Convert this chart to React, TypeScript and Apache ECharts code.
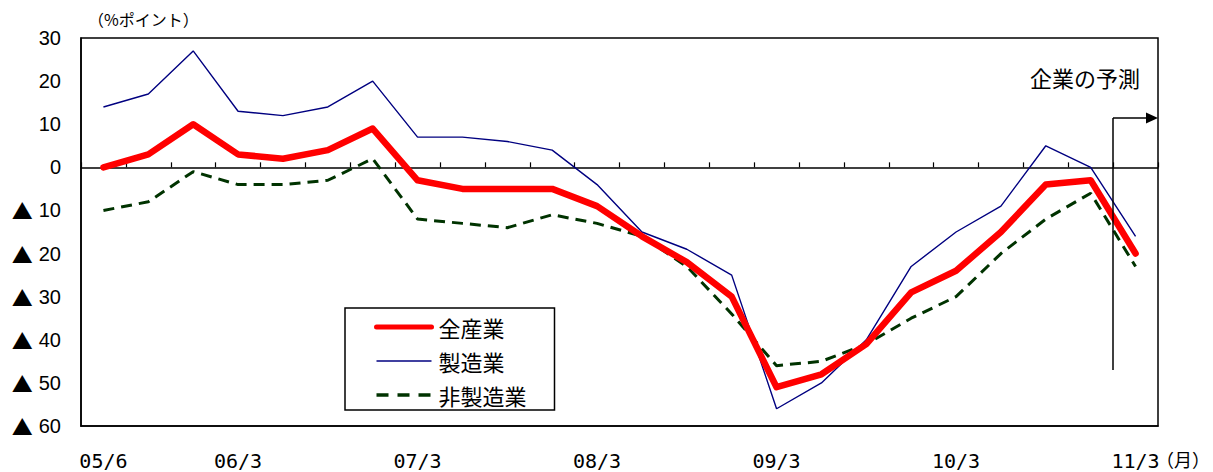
import React, { useEffect, useRef } from "react";
import * as echarts from "echarts";

const categories = [
  "05/6", "05/9", "05/12", "06/3", "06/6", "06/9", "06/12", "07/3",
  "07/6", "07/9", "07/12", "08/3", "08/6", "08/9", "08/12", "09/3",
  "09/6", "09/9", "09/12", "10/3", "10/6", "10/9", "10/12", "11/3",
];

const allIndustries = [0, 3, 10, 3, 2, 4, 9, -3, -5, -5, -5, -9, -16, -22, -30, -51, -48, -41, -29, -24, -15, -4, -3, -20];
const manufacturing = [14, 17, 27, 13, 12, 14, 20, 7, 7, 6, 4, -4, -15, -19, -25, -56, -50, -40, -23, -15, -9, 5, 0, -16];
const nonManufacturing = [-10, -8, -1, -4, -4, -3, 2, -12, -13, -14, -11, -13, -16, -23, -34, -46, -45, -41, -35, -30, -20, -12, -6, -23];

const seriesNames = ["全産業", "製造業", "非製造業"];
const yMin = -60;
const yMax = 30;
const yStep = 10;

const CJK = '"Noto Sans CJK JP", "Noto Sans", sans-serif';
const LAT = '"Liberation Sans", Arial, sans-serif';
const MONO = '"DejaVu Sans Mono", "Liberation Mono", monospace';

const RED = "#ff0000";
const BLUE = "#000080";
const GREEN = "#003300";

export default function App() {
  const ref = useRef<HTMLDivElement>(null);

  useEffect(() => {
    document.body.style.margin = "0";
    if (!ref.current) return;
    const chart = echarts.init(ref.current, undefined, { renderer: "svg" });
    chart.setOption({
      animation: false,
      backgroundColor: "#ffffff",
      grid: {
        left: 81,
        top: 38,
        right: 55,
        bottom: 46,
        show: true,
        borderColor: "#000",
        borderWidth: 1.5,
      },
      legend: {
        orient: "vertical",
        left: 345,
        top: 308,
        data: [
          { name: seriesNames[0], lineStyle: { color: RED, width: 5, cap: "round" } },
          { name: seriesNames[1], lineStyle: { color: BLUE, width: 1.4 } },
          { name: seriesNames[2], lineStyle: { color: GREEN, width: 3.5, type: [12, 9] } },
        ],
        itemWidth: 55,
        itemHeight: 14,
        itemGap: 12,
        padding: [8, 28, 4, 29],
        borderColor: "#000",
        borderWidth: 1.5,
        backgroundColor: "#fff",
        itemStyle: { opacity: 0 },
        textStyle: { fontFamily: CJK, fontSize: 22, color: "#000", padding: [0, 0, 0, 2] },
      },
      xAxis: [
        {
          type: "category",
          data: categories,
          boundaryGap: true,
          position: "bottom",
          axisLine: { show: true, onZero: false, lineStyle: { color: "#000", width: 1.5 } },
          axisTick: { show: false },
          axisLabel: {
            interval: (idx: number, name: string) => idx === 0 || name.endsWith("/3"),
            margin: 25,
            fontFamily: MONO,
            fontSize: 20,
            color: "#000",
          },
          splitLine: { show: false },
        },
        {
          type: "category",
          data: categories,
          boundaryGap: true,
          position: "bottom",
          axisLine: { show: true, onZero: true, lineStyle: { color: "#000", width: 1.5 } },
          axisTick: { show: true, inside: true, length: 5, interval: 0, lineStyle: { color: "#000", width: 1.2 } },
          axisLabel: { show: false },
          splitLine: { show: false },
        },
      ],
      yAxis: {
        type: "value",
        min: yMin,
        max: yMax,
        interval: yStep,
        axisLine: { show: true, lineStyle: { color: "#000", width: 1.5 } },
        axisTick: { show: false },
        splitLine: { show: false },
        axisLabel: {
          margin: 20,
          fontFamily: LAT,
          fontSize: 20,
          color: "#000",
          formatter: (v: number) => (v < 0 ? "{t|▲}{n|" + -v + "}" : "{n|" + v + "}"),
          rich: {
            t: { fontFamily: CJK, fontSize: 21, color: "#000", padding: [0, 6, 0, 0] },
            n: { fontFamily: LAT, fontSize: 20, color: "#000" },
          },
        },
      },
      series: [
        {
          name: seriesNames[0],
          type: "line",
          data: allIndustries,
          symbol: "none",
          z: 4,
          lineStyle: { color: RED, width: 6.5, cap: "round", join: "round" },
          itemStyle: { color: RED },
        },
        {
          name: seriesNames[1],
          type: "line",
          data: manufacturing,
          symbol: "none",
          z: 3,
          lineStyle: { color: BLUE, width: 1.4 },
          itemStyle: { color: BLUE },
        },
        {
          name: seriesNames[2],
          type: "line",
          data: nonManufacturing,
          symbol: "none",
          z: 2,
          lineStyle: { color: GREEN, width: 3, type: [11, 7] },
          itemStyle: { color: GREEN },
        },
      ],
      graphic: [
        {
          type: "text",
          left: 88,
          top: 11,
          style: { text: "（%ポイント）", font: `16px ${CJK}`, fill: "#000" },
        },
        {
          type: "text",
          left: 1030,
          top: 66,
          style: { text: "企業の予測", font: `22px ${CJK}`, fill: "#000" },
        },
        {
          type: "text",
          right: 3,
          top: 450,
          style: { text: "（月）", font: `18px ${CJK}`, fill: "#000" },
        },
        {
          type: "line",
          shape: { x1: 1113, y1: 118, x2: 1113, y2: 370 },
          style: { stroke: "#000", lineWidth: 1.5 },
          z: 10,
        },
        {
          type: "line",
          shape: { x1: 1113, y1: 118, x2: 1148, y2: 118 },
          style: { stroke: "#000", lineWidth: 1.5 },
          z: 10,
        },
        {
          type: "polygon",
          shape: { points: [[1146, 112.5], [1158, 118], [1146, 123.5]] },
          style: { fill: "#000" },
          z: 10,
        },
      ],
    });
    return () => chart.dispose();
  }, []);

  return <div ref={ref} style={{ width: 1213, height: 472 }} />;
}
